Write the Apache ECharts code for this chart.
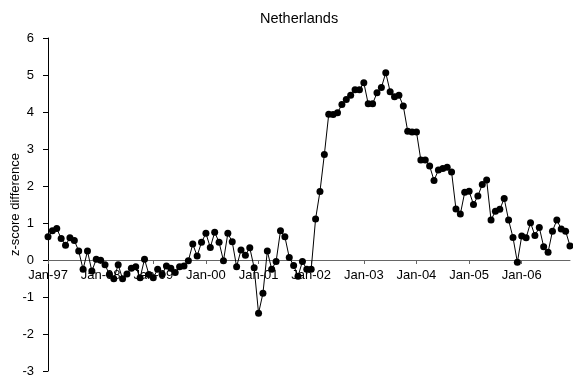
<!DOCTYPE html>
<html>
<head>
<meta charset="utf-8">
<style>html,body{margin:0;padding:0;background:#fff}#c{width:573px;height:381px}</style>
<script src="https://cdn.jsdelivr.net/npm/echarts@6/dist/echarts.min.js"></script>
</head>
<body>
<div id="c"></div>
<script>
const years = ['97','98','99','00','01','02','03','04','05','06'];
const months = ['Jan','Feb','Mar','Apr','May','Jun','Jul','Aug','Sep','Oct','Nov','Dec'];
const values = [
  0.63, 0.79, 0.85, 0.58, 0.40, 0.60, 0.53, 0.24, -0.25, 0.24, -0.30, 0.02,
  -0.01, -0.13, -0.39, -0.51, -0.13, -0.51, -0.38, -0.22, -0.18, -0.48, 0.02, -0.39,
  -0.48, -0.25, -0.39, -0.16, -0.22, -0.34, -0.18, -0.16, -0.02, 0.43, 0.11, 0.48,
  0.72, 0.34, 0.75, 0.48, -0.02, 0.72, 0.49, -0.18, 0.27, 0.13, 0.33, -0.21,
  -1.44, -0.90, 0.24, -0.25, -0.04, 0.79, 0.63, 0.07, -0.15, -0.44, -0.04, -0.25,
  -0.25, 1.11, 1.85, 2.85, 3.94, 3.93, 3.98, 4.20, 4.34, 4.45, 4.60, 4.60,
  4.79, 4.22, 4.22, 4.52, 4.66, 5.06, 4.55, 4.41, 4.45, 4.16, 3.48, 3.46,
  3.46, 2.70, 2.70, 2.54, 2.15, 2.43, 2.47, 2.51, 2.38, 1.38, 1.24, 1.83,
  1.86, 1.50, 1.73, 2.04, 2.16, 1.08, 1.32, 1.37, 1.66, 1.08, 0.61, -0.06,
  0.65, 0.60, 1.01, 0.66, 0.88, 0.36, 0.21, 0.78, 1.08, 0.84, 0.78, 0.38
];
const categories = [];
years.forEach(y => months.forEach(m => categories.push(m + '-' + y)));

const yMin = -3, yMax = 6;
const gridTop = 38, gridBottom = 10, H = 381;
const plotH = H - gridTop - gridBottom;
const zeroOffset = -plotH * (0 - yMin) / (yMax - yMin);

const font = 'Liberation Sans, Arial, sans-serif';
const chart = echarts.init(document.getElementById('c'), null, {renderer: 'canvas'});
chart.setOption({
  animation: false,
  backgroundColor: '#fff',
  title: {
    text: 'Netherlands', left: 255, top: 6,
    textStyle: {fontFamily: font, fontSize: 14.5, fontWeight: 'normal', color: '#000'}
  },
  grid: {left: 48, right: 3, top: gridTop, bottom: gridBottom, containLabel: false, outerBoundsMode: 'none'},
  xAxis: {
    type: 'category', data: categories, boundaryGap: false,
    position: 'bottom', offset: zeroOffset,
    axisLine: {onZero: false, lineStyle: {color: '#666', width: 1}},
    axisTick: {show: true, length: 4, inside: false, interval: i => i % 12 === 0, lineStyle: {color: '#666'}},
    axisLabel: {interval: i => i % 12 === 0, margin: 9, fontFamily: font, fontSize: 13, color: '#000'},
    splitLine: {show: false}
  },
  yAxis: {
    type: 'value', min: yMin, max: yMax, interval: 1,
    name: 'z-score difference', nameLocation: 'middle', nameGap: 26, nameRotate: 90,
    nameMoveOverlap: false,
    nameTextStyle: {fontFamily: font, fontSize: 13, color: '#000'},
    axisLine: {show: true, onZero: false, lineStyle: {color: '#000', width: 1}},
    axisTick: {show: true, length: 5, lineStyle: {color: '#000'}},
    axisLabel: {margin: 14, fontFamily: font, fontSize: 13, color: '#000'},
    splitLine: {show: false}
  },
  series: [{
    type: 'line', data: values,
    symbol: 'circle', symbolSize: 7, showSymbol: true, showAllSymbol: true,
    itemStyle: {color: '#000'},
    lineStyle: {color: '#000', width: 1}
  }]
});
</script>
</body>
</html>
